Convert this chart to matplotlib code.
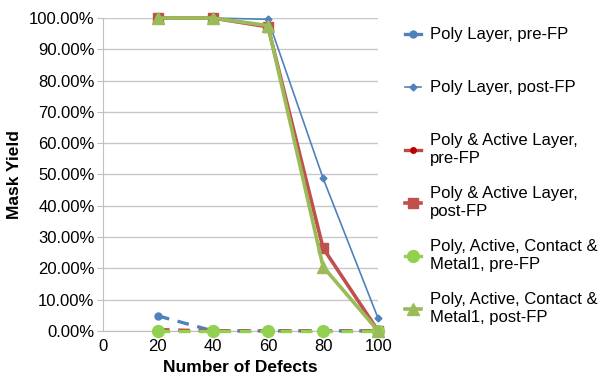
import matplotlib
matplotlib.use('Agg')
import matplotlib.pyplot as plt
from matplotlib.lines import Line2D
from matplotlib.ticker import PercentFormatter

plt.rcParams['font.family'] = ['Liberation Sans', 'DejaVu Sans']

# ========== data ==========
defects = [20, 40, 60, 80, 100]
poly_pre = [0.048, 0.0, 0.0, 0.0, 0.0]
poly_post = [1.0, 1.0, 0.996, 0.488, 0.04]
poly_active_pre = [0.004, 0.0, 0.0, 0.0, 0.0]
poly_active_post = [1.0, 1.0, 0.972, 0.265, 0.0]
pacm_pre = [0.0, 0.0, 0.0, 0.0, 0.0]
pacm_post = [1.0, 1.0, 0.976, 0.205, 0.0]

labels = ['Poly Layer, pre-FP',
          'Poly Layer, post-FP',
          'Poly & Active Layer,\npre-FP',
          'Poly & Active Layer,\npost-FP',
          'Poly, Active, Contact &\nMetal1, pre-FP',
          'Poly, Active, Contact &\nMetal1, post-FP']

fig = plt.figure(figsize=(6.05, 3.76), dpi=100)
ax = fig.add_axes([0.170, 0.120, 0.455, 0.832])

dash = (3.5, 2.6)
lines = []
lines += ax.plot(defects, poly_pre, color='#4F81BD', lw=2.4, dashes=dash,
                 marker='o', ms=5, clip_on=False, zorder=3)
lines += ax.plot(defects, poly_post, color='#4F81BD', lw=1.2,
                 marker='D', ms=3.5, clip_on=False, zorder=4)
lines += ax.plot(defects, poly_active_pre, color='#B94A47', lw=2.4, dashes=dash,
                 marker='o', ms=4, mfc='#C00000', mec='#C00000',
                 clip_on=False, zorder=3)
lines += ax.plot(defects, poly_active_post, color='#C0504D', lw=2.6,
                 marker='s', ms=7.5, clip_on=False, zorder=5)
lines += ax.plot(defects, pacm_pre, color='#92D050', lw=2.4, dashes=dash,
                 marker='o', ms=8.5, clip_on=False, zorder=6)
lines += ax.plot(defects, pacm_post, color='#9BBB59', lw=2.6,
                 marker='^', ms=8.5, clip_on=False, zorder=6)

ax.set_xlim(0, 100)
ax.set_ylim(0, 1.0)
ax.set_xticks(range(0, 101, 20))
ax.set_yticks([i / 10 for i in range(11)])
ax.yaxis.set_major_formatter(PercentFormatter(1.0, decimals=2))
ax.grid(axis='y', color='#C8C8C8', lw=1)
ax.set_axisbelow(True)
for s in ['top', 'right']:
    ax.spines[s].set_visible(False)
for s in ['left', 'bottom']:
    ax.spines[s].set_color('#BFBFBF')
ax.tick_params(axis='y', length=4, color='#BFBFBF', labelsize=12, pad=2)
ax.tick_params(axis='x', length=0, labelsize=12, pad=6)

ax.set_xlabel('Number of Defects', fontsize=12.5, fontweight='bold', labelpad=4)
ax.set_ylabel('Mask Yield', fontsize=12.5, fontweight='bold', labelpad=5)

# legend entries sit in equal slots down the right side; handles drawn solid
slot = 53 / 376
for i, (ln, lab) in enumerate(zip(lines, labels)):
    h = Line2D([], [], color=ln.get_color(), lw=ln.get_linewidth(),
               marker=ln.get_marker(), ms=ln.get_markersize(),
               mfc=ln.get_markerfacecolor(), mec=ln.get_markeredgecolor())
    fig.legend([h], [lab], loc='upper left', frameon=False,
               bbox_to_anchor=(0.669, 0.927 - i * slot), borderaxespad=0,
               borderpad=0, fontsize=12, handlelength=0.95,
               handletextpad=0.55)

plt.savefig('out.png', dpi=100)
plt.close()
